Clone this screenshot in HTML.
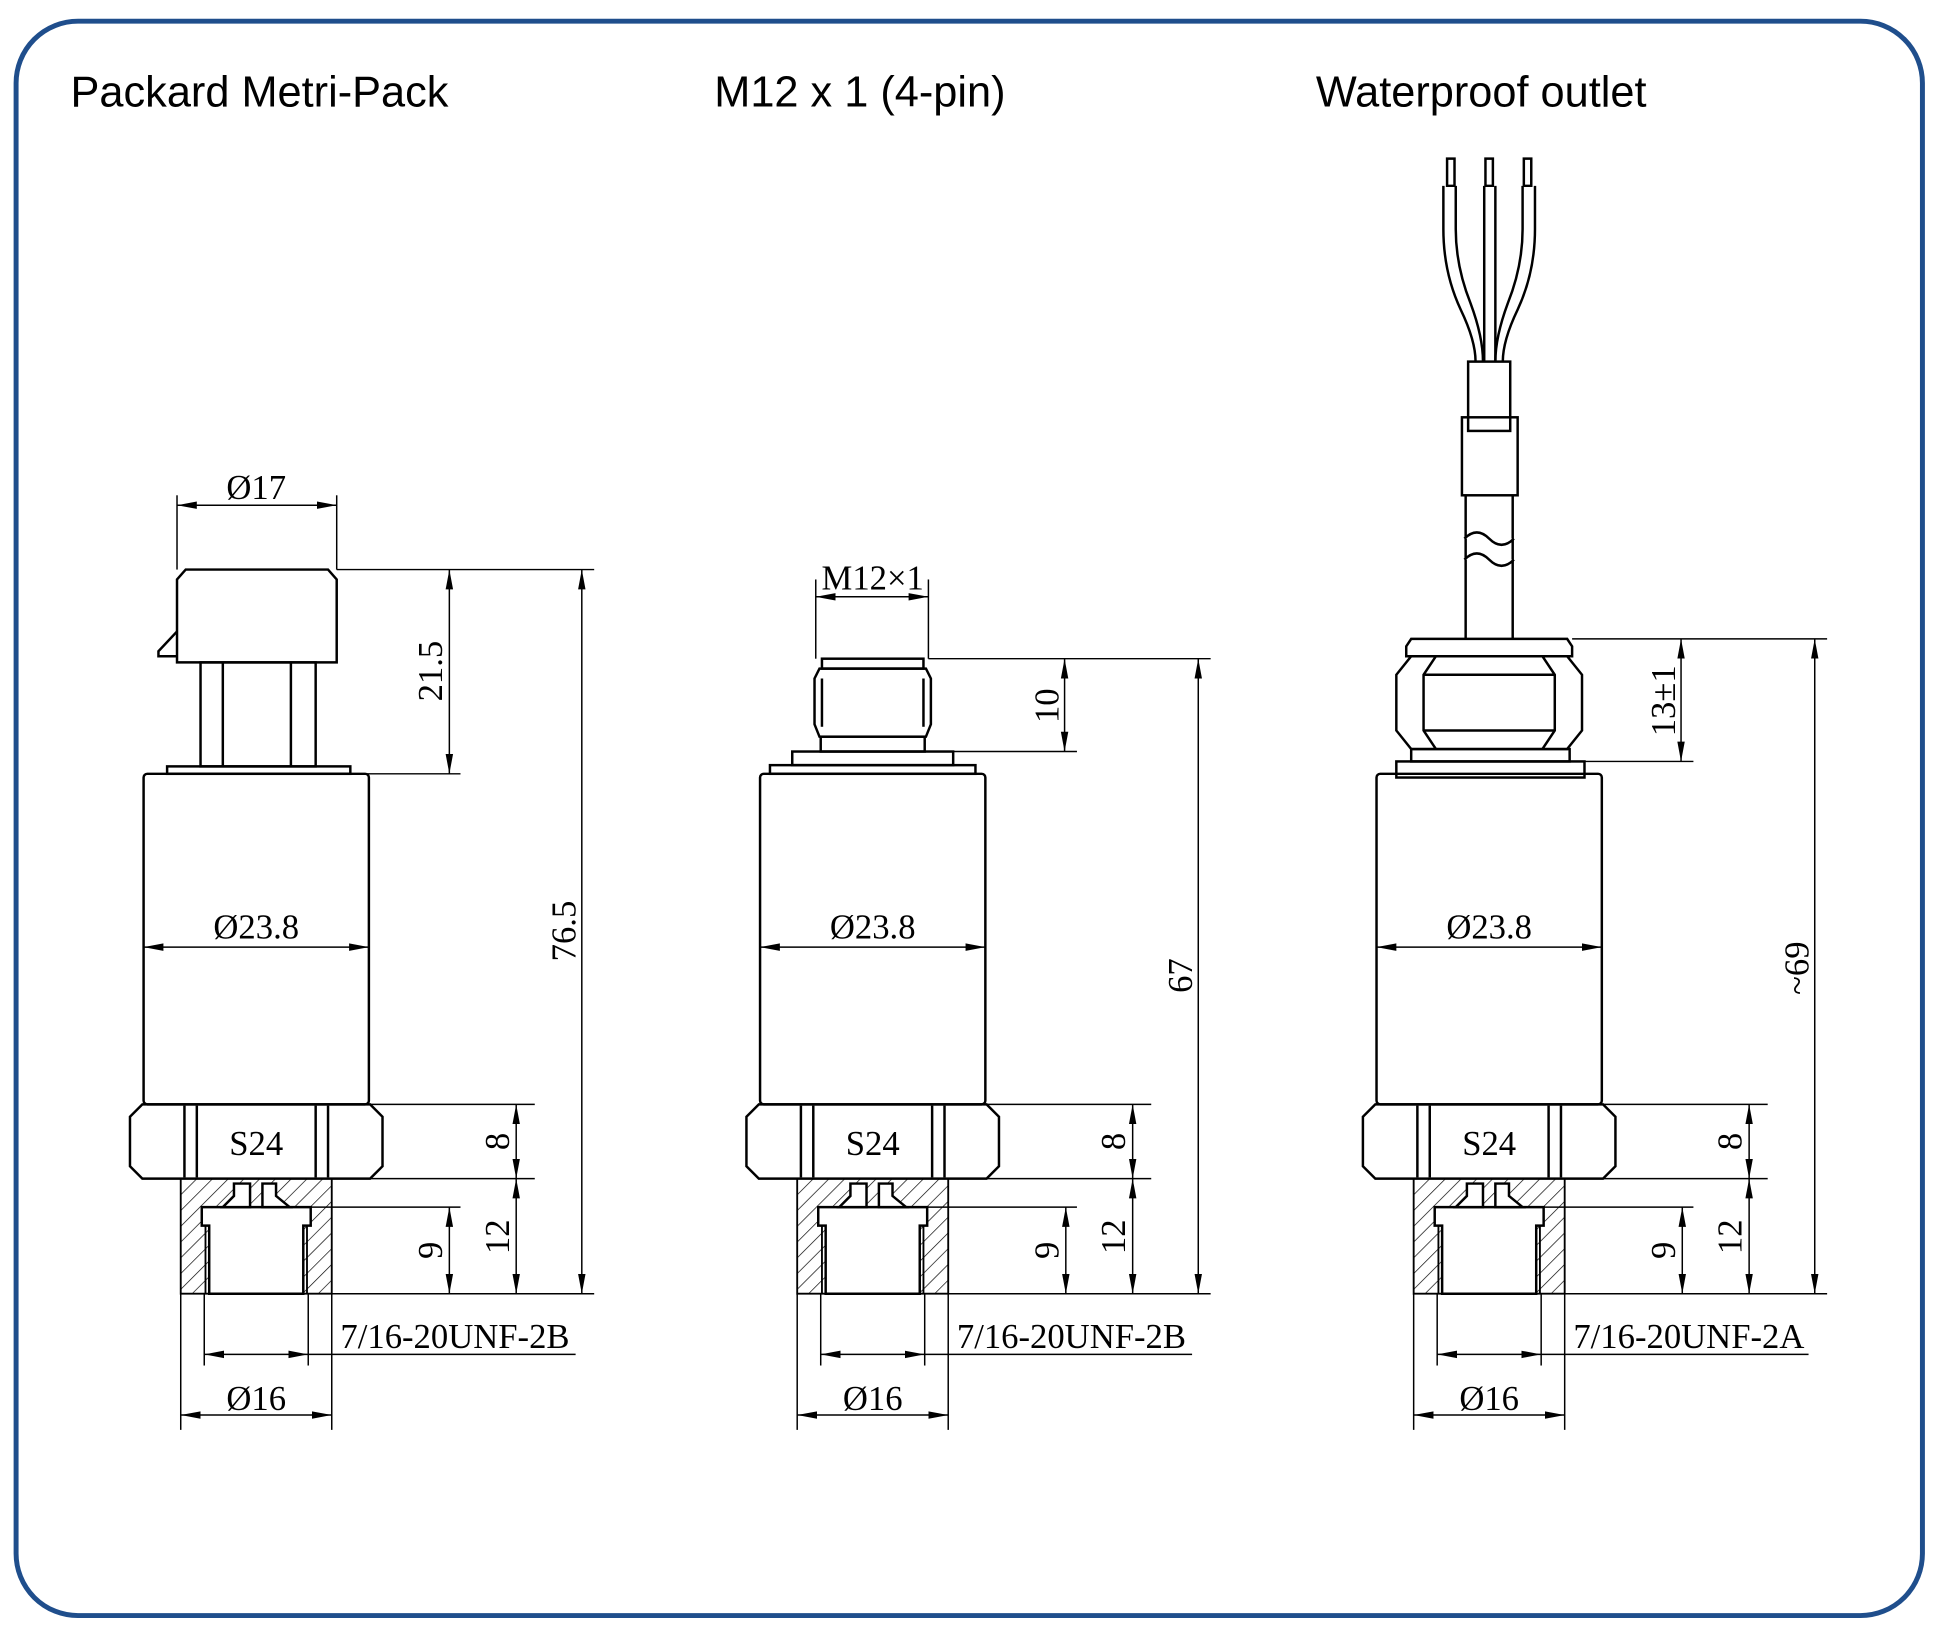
<!DOCTYPE html>
<html><head><style>html,body{margin:0;padding:0;background:#fff}svg{display:block}</style></head><body>
<svg width="1941" height="1638" viewBox="0 0 1568 1323" xmlns="http://www.w3.org/2000/svg">
<defs>
<marker id="a" markerWidth="16" markerHeight="8" refX="16" refY="4" orient="auto-start-reverse" markerUnits="userSpaceOnUse"><path d="M0,1 L16,4 L0,7 Z" fill="#000"/></marker>
<pattern id="h" width="9" height="9" patternUnits="userSpaceOnUse" patternTransform="rotate(45)"><line x1="0" y1="0" x2="0" y2="9" stroke="#000" stroke-width="1.1"/></pattern>
<g id="bot" fill="none" stroke="#000">
<rect x="-91" y="625" width="182" height="267" rx="3" stroke-width="2"/>
<path d="M-92,892 H92 L102,902 V942 L92,952 H-92 L-102,942 V902 Z" stroke-width="2"/>
<line x1="-58" y1="893" x2="-58" y2="951" stroke-width="2"/><line x1="-48" y1="893" x2="-48" y2="951" stroke-width="2"/>
<line x1="48" y1="893" x2="48" y2="951" stroke-width="2"/><line x1="58" y1="893" x2="58" y2="951" stroke-width="2"/>
<path d="M-61,952 V1045 H61 V952 Z" fill="url(#h)" stroke-width="1.5"/>
<path d="M-44,975 H44 V990 H38 V1045 H-38 V990 H-44 Z" fill="#fff" stroke-width="2"/>
<path d="M-27,975 L-18,966 V956 H-5 V975 Z M5,975 V956 H16 V966 L27,975 Z" fill="#fff" stroke-width="2"/>
<line x1="-41" y1="990" x2="-41" y2="1045" stroke-width="1.5"/><line x1="41" y1="990" x2="41" y2="1045" stroke-width="1.5"/>
<g stroke-width="1.2">
<line x1="92" y1="892" x2="225" y2="892"/><line x1="62" y1="952" x2="225" y2="952"/><line x1="44" y1="975" x2="165" y2="975"/>
<line x1="61" y1="1045" x2="270" y2="1045"/>
<line x1="210" y1="892" x2="210" y2="952" marker-start="url(#a)" marker-end="url(#a)"/>
<line x1="210" y1="952" x2="210" y2="1045" marker-start="url(#a)" marker-end="url(#a)"/>
<line x1="156" y1="975" x2="156" y2="1045" marker-start="url(#a)" marker-end="url(#a)"/>
<line x1="-91" y1="765" x2="91" y2="765" marker-start="url(#a)" marker-end="url(#a)"/>
<line x1="-42" y1="1045" x2="-42" y2="1103"/><line x1="42" y1="1045" x2="42" y2="1103"/>
<line x1="-42" y1="1094" x2="42" y2="1094" marker-start="url(#a)" marker-end="url(#a)"/>
<line x1="42" y1="1094" x2="258" y2="1094"/>
<line x1="-61" y1="1045" x2="-61" y2="1155"/><line x1="61" y1="1045" x2="61" y2="1155"/>
<line x1="-61" y1="1143" x2="61" y2="1143" marker-start="url(#a)" marker-end="url(#a)"/>
</g>
<g fill="#000" stroke="none" font-family="Liberation Serif, serif" font-size="28">
<text x="0" y="933" text-anchor="middle">S24</text>
<text x="0" y="758" text-anchor="middle">Ø23.8</text>
<text x="0" y="1139" text-anchor="middle">Ø16</text>
<text transform="translate(204,922) rotate(-90)" text-anchor="middle">8</text>
<text transform="translate(204,999) rotate(-90)" text-anchor="middle">12</text>
<text transform="translate(150,1010) rotate(-90)" text-anchor="middle">9</text>
</g>
</g>
</defs>
<rect x="13" y="17" width="1540" height="1288" rx="50" fill="#fff" stroke="#1f4e8c" stroke-width="4"/>
<g font-family="Liberation Sans, sans-serif" font-size="35" fill="#000">
<text x="57" y="86">Packard Metri-Pack</text>
<text x="577" y="86">M12 x 1 (4-pin)</text>
<text x="1063" y="86">Waterproof outlet</text>
</g>
<use href="#bot" x="207"/>
<use href="#bot" x="705"/>
<use href="#bot" x="1203"/>
<g font-family="Liberation Serif, serif" font-size="28" fill="#000">
<text x="275" y="1089">7/16-20UNF-2B</text>
<text x="773" y="1089">7/16-20UNF-2B</text>
<text x="1271" y="1089">7/16-20UNF-2A</text>
</g>
<g fill="none" stroke="#000" stroke-width="2">
<path d="M150,460 H265 L272,468 V535 H143 V468 Z"/>
<path d="M143,510 L128,526 V530 H143"/>
<rect x="162" y="535" width="93" height="84"/>
<line x1="180" y1="535" x2="180" y2="619"/><line x1="235" y1="535" x2="235" y2="619"/>
<rect x="135" y="619" width="148" height="6"/>
</g>
<g stroke="#000" stroke-width="1.2" fill="none">
<line x1="143" y1="400" x2="143" y2="460"/><line x1="272" y1="400" x2="272" y2="460"/>
<line x1="143" y1="408" x2="272" y2="408" marker-start="url(#a)" marker-end="url(#a)"/>
<line x1="272" y1="460" x2="480" y2="460"/><line x1="283" y1="625" x2="372" y2="625"/>
<line x1="363" y1="460" x2="363" y2="625" marker-start="url(#a)" marker-end="url(#a)"/>
<line x1="470" y1="460" x2="470" y2="1045" marker-start="url(#a)" marker-end="url(#a)"/>
<line x1="268" y1="1045" x2="480" y2="1045"/>
</g>
<g font-family="Liberation Serif, serif" font-size="28" fill="#000">
<text x="207" y="403" text-anchor="middle">Ø17</text>
<text transform="translate(357,542) rotate(-90)" text-anchor="middle">21.5</text>
<text transform="translate(465,752) rotate(-90)" text-anchor="middle">76.5</text>
</g>
<g fill="none" stroke="#000" stroke-width="2">
<rect x="664" y="532" width="82" height="8"/>
<path d="M662,540 H748 L752,548 V585 L748,595 H662 L658,585 V548 Z"/>
<line x1="664" y1="548" x2="664" y2="587"/><line x1="746" y1="548" x2="746" y2="587"/>
<rect x="663" y="595" width="84" height="12"/>
<rect x="640" y="607" width="130" height="11"/>
<rect x="622" y="618" width="166" height="7"/>
</g>
<g stroke="#000" stroke-width="1.2" fill="none">
<line x1="659" y1="468" x2="659" y2="532"/><line x1="750" y1="468" x2="750" y2="532"/>
<line x1="659" y1="482" x2="750" y2="482" marker-start="url(#a)" marker-end="url(#a)"/>
<line x1="750" y1="532" x2="978" y2="532"/><line x1="770" y1="607" x2="870" y2="607"/>
<line x1="860" y1="532" x2="860" y2="607" marker-start="url(#a)" marker-end="url(#a)"/>
<line x1="968" y1="532" x2="968" y2="1045" marker-start="url(#a)" marker-end="url(#a)"/>
<line x1="766" y1="1045" x2="978" y2="1045"/>
</g>
<g font-family="Liberation Serif, serif" font-size="28" fill="#000">
<text x="705" y="476" text-anchor="middle">M12×1</text>
<text transform="translate(855,570) rotate(-90)" text-anchor="middle">10</text>
<text transform="translate(963,788) rotate(-90)" text-anchor="middle">67</text>
</g>
<g fill="none" stroke="#000" stroke-width="2">
<path d="M1169,128 V150 H1175 V128 Z M1200,128 V150 H1206 V128 Z M1231,128 V150 H1237 V128 Z"/>
<path d="M1166,150 V185 Q1166,220 1180,250 Q1192,275 1192,292"/>
<path d="M1176,150 V185 Q1176,215 1188,245 Q1198,272 1198,292"/>
<path d="M1199,150 V292 M1208,150 V292"/>
<path d="M1230,150 V185 Q1230,215 1218,245 Q1208,272 1208,292"/>
<path d="M1240,150 V185 Q1240,220 1226,250 Q1214,275 1214,292"/>
<rect x="1186" y="292" width="34" height="56"/>
<rect x="1181" y="337" width="45" height="63"/>
<path d="M1184,400 V540 M1222,400 V540"/>
<path d="M1183,435 Q1193,425 1203,435 Q1213,445 1223,435" fill="#fff"/>
<path d="M1183,452 Q1193,442 1203,452 Q1213,462 1223,452" fill="#fff"/>
<path d="M1140,516 H1266 L1270,522 V530 H1136 V522 Z" fill="#fff"/>
<path d="M1140,530 H1266 L1278,545 V590 L1266,605 H1140 L1128,590 V545 Z" fill="#fff"/>
<path d="M1160,530 L1150,545 V590 L1160,605 M1246,530 L1256,545 V590 L1246,605"/>
<line x1="1150" y1="545" x2="1256" y2="545"/><line x1="1150" y1="590" x2="1256" y2="590"/>
<rect x="1140" y="605" width="128" height="10"/>
<rect x="1128" y="615" width="152" height="13"/>
</g>
<g stroke="#000" stroke-width="1.2" fill="none">
<line x1="1270" y1="516" x2="1476" y2="516"/><line x1="1268" y1="615" x2="1368" y2="615"/>
<line x1="1358" y1="516" x2="1358" y2="615" marker-start="url(#a)" marker-end="url(#a)"/>
<line x1="1466" y1="516" x2="1466" y2="1045" marker-start="url(#a)" marker-end="url(#a)"/>
<line x1="1264" y1="1045" x2="1476" y2="1045"/>
</g>
<g font-family="Liberation Serif, serif" font-size="28" fill="#000">
<text transform="translate(1353,566) rotate(-90)" text-anchor="middle">13±1</text>
<text transform="translate(1461,782) rotate(-90)" text-anchor="middle">~69</text>
</g>
</svg>
</body></html>
